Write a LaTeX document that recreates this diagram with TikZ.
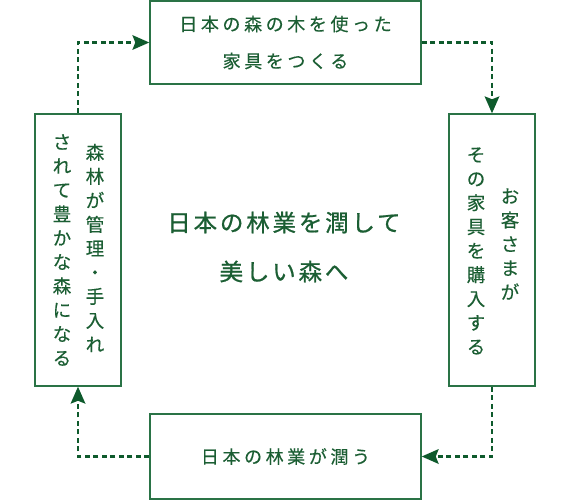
\documentclass[tikz,border=0pt]{standalone}
\usepackage{fontspec}
\usetikzlibrary{arrows.meta}
\setmainfont{Noto Sans CJK JP}
\newfontfamily\cjk[FakeBold=0.3]{Noto Sans CJK JP}
\newfontfamily\cjksp[LetterSpace=20,FakeBold=0.3]{Noto Sans CJK JP}
\newfontfamily\cjkc[LetterSpace=12,FakeBold=0.8]{Noto Sans CJK JP}
\definecolor{linec}{HTML}{2A7346}
\definecolor{arrowc}{HTML}{0E5A2C}
\definecolor{textc}{HTML}{1B5E33}
\tikzset{
  box/.style={draw=linec, line width=1.5pt, fill=white, inner sep=0pt},
  hbox/.style={box, minimum width=271pt, text=textc, align=center, font=\cjksp\fontsize{18}{37}\selectfont},
  vbox/.style={box, minimum width=86pt, minimum height=272pt},
  vcol/.style={text=textc, align=center, inner sep=0pt, font=\cjk\fontsize{18.5}{24}\selectfont},
  flow/.style={draw=arrowc, line width=2.4pt, dash pattern=on 5pt off 3.5pt,
    -{Stealth[length=17pt,width=15pt,inset=3pt,line width=0pt]}},
}
\begin{document}
\begin{tikzpicture}[x=1pt,y=-1pt]
\useasboundingbox (0,0) rectangle (568,500);
% boxes
\node[hbox, minimum height=83pt] (top) at (285.5,42.5) {日本の森の木を使った\\家具をつくる};
\node[vbox] (left) at (78,250) {};
\node[vbox] (right) at (492,250) {};
\node[hbox, minimum height=85pt] (bottom) at (285.5,456.5) {日本の林業が潤う};
% vertical texts
\node[vcol] (l1) at (95,248) {森\\林\\が\\管\\理\\・\\手\\入\\れ};
\node[vcol] (l2) at (62,250) {さ\\れ\\て\\豊\\か\\な\\森\\に\\な\\る};
\node[vcol] (r1) at (510,244) {お\\客\\さ\\ま\\が};
\node[vcol] (r2) at (476,251) {そ\\の\\家\\具\\を\\購\\入\\す\\る};
% centre text
\node[text=textc, align=center, font=\cjkc\fontsize{23.5}{49}\selectfont] (centre) at (284,247) {日本の林業を潤して\\美しい森へ};
% connectors
\draw[flow] (left.north) |- (top.west);
\draw[flow] (top.east) -| (right.north);
\draw[flow] (right.south) |- (bottom.east);
\draw[flow] (bottom.west) -| (left.south);
\end{tikzpicture}
\end{document}
